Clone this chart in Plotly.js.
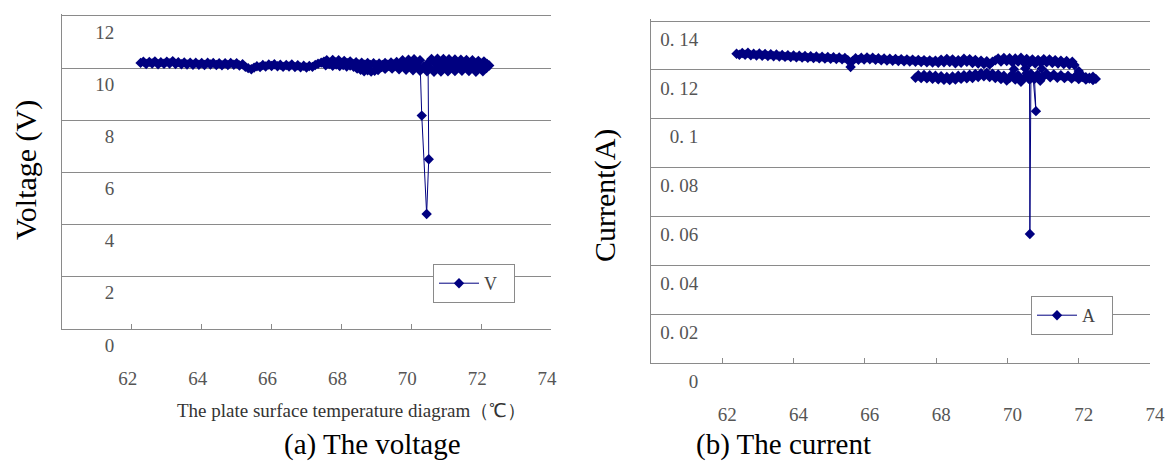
<!DOCTYPE html>
<html>
<head>
<meta charset="utf-8">
<script src="https://cdn.plot.ly/plotly-3.0.1.min.js"></script>
<style>html,body{margin:0;padding:0;background:#fff;}#chart{width:1170px;height:468px;}</style>
</head>
<body>
<div id="chart"></div>
<script>
// ---- Panel (a): voltage vs plate surface temperature (time ordered)
var tempV = [
62.25,62.33,62.41,62.50,62.58,62.66,62.75,62.83,62.92,63.00,63.08,63.17,63.25,63.33,63.42,63.50,63.58,63.67,63.75,63.83,
63.92,64.00,64.08,64.17,64.25,64.33,64.42,64.50,64.58,64.67,64.75,64.83,64.92,65.00,65.08,65.17,65.25,65.33,65.42,65.50,
65.58,65.67,65.75,65.83,65.92,66.00,66.08,66.17,66.25,66.33,66.42,66.50,66.58,66.67,66.75,66.83,66.92,67.00,67.08,67.17,
67.25,67.33,67.42,67.50,67.58,67.67,67.75,67.83,67.92,68.00,68.08,68.17,68.25,68.33,68.42,68.50,68.58,68.67,68.75,68.83,
68.92,69.00,69.08,69.17,69.25,69.33,69.42,69.50,69.58,69.67,69.75,69.83,69.92,70.00,70.08,70.17,70.25,70.30,70.44,70.50,
70.48,70.58,70.67,70.75,70.83,70.92,71.00,71.08,71.17,71.25,71.33,71.42,71.50,71.58,71.67,71.75,71.83,71.92,72.00,72.08,
72.17,72.23,72.15,72.05,71.95,71.85,71.75,71.65,71.55,71.45,71.35,71.25,71.15,71.05,70.95,70.85,70.75,70.65,70.55,70.45,
70.35,70.25,70.15,70.05,69.95,69.85,69.75,69.65,69.55,69.45,69.35,69.25,69.15,69.05,68.95,68.85,68.75,68.65,68.55,68.45,
68.35,68.25,68.15,68.05,67.95,67.85,67.75,67.65,67.55
];
var voltage = [
10.20,10.25,10.16,10.24,10.18,10.26,10.15,10.23,10.17,10.25,10.18,10.27,10.16,10.23,10.15,10.22,10.14,10.21,10.13,10.21,
10.13,10.20,10.12,10.21,10.14,10.20,10.12,10.19,10.11,10.19,10.12,10.20,10.13,10.19,10.10,10.15,10.05,10.00,9.96,10.02,
10.07,10.04,10.12,10.06,10.14,10.08,10.15,10.07,10.13,10.05,10.12,10.06,10.14,10.04,10.11,10.03,10.09,10.02,10.08,10.05,
10.12,10.17,10.21,10.25,10.30,10.21,10.31,10.22,10.30,10.20,10.28,10.19,10.26,10.16,10.23,10.14,10.21,10.13,10.20,10.12,
10.19,10.11,10.18,10.12,10.20,10.13,10.22,10.14,10.24,10.16,10.30,10.18,10.32,10.20,10.34,10.21,10.30,8.18,4.41,6.51,
10.20,10.35,10.22,10.36,10.23,10.35,10.21,10.34,10.20,10.33,10.19,10.32,10.18,10.31,10.17,10.30,10.15,10.28,10.14,10.26,
10.16,10.10,10.00,9.88,10.04,9.86,10.03,9.89,10.06,9.90,10.07,9.89,10.05,9.88,10.04,9.87,10.03,9.86,10.01,9.88,
10.05,9.90,10.06,9.92,10.08,9.94,10.09,9.96,10.10,9.98,10.09,9.97,10.04,9.93,9.90,9.87,9.92,9.88,9.94,9.98,
10.05,10.10,10.06,10.12,10.08,10.14,10.09,10.16,10.11
];

// ---- Panel (b): current vs plate surface temperature (time ordered)
var tempA = [
62.40,62.48,62.56,62.64,62.72,62.80,62.88,62.96,63.04,63.12,63.20,63.28,63.36,63.44,63.52,63.60,63.68,63.76,63.84,63.92,
64.00,64.08,64.16,64.24,64.32,64.40,64.48,64.56,64.64,64.72,64.80,64.88,64.96,65.04,65.12,65.20,65.28,65.36,65.44,65.52,
65.60,65.66,65.74,65.82,65.90,65.98,66.06,66.14,66.22,66.30,66.38,66.46,66.54,66.62,66.70,66.78,66.86,66.94,67.02,67.10,
67.18,67.26,67.34,67.42,67.50,67.58,67.66,67.74,67.82,67.90,67.98,68.06,68.14,68.22,68.30,68.38,68.46,68.54,68.62,68.70,
68.78,68.86,68.94,69.02,69.10,69.18,69.26,69.34,69.42,69.50,69.58,69.66,69.74,69.82,69.90,69.98,70.06,70.14,70.22,70.30,
70.38,70.46,70.54,70.62,70.70,70.78,70.86,70.94,71.02,71.10,71.18,71.26,71.34,71.42,71.50,71.58,71.66,71.74,71.82,71.88,
72.00,72.10,72.20,72.30,72.40,72.48,72.40,72.30,72.20,72.10,72.00,71.90,71.80,71.70,71.60,71.50,71.40,71.30,71.20,71.10,
71.00,70.92,70.96,70.84,70.76,70.80,70.72,70.66,70.63,70.62,70.54,70.50,70.46,70.38,70.30,70.22,70.18,70.14,70.06,69.98,
69.90,69.82,69.74,69.66,69.58,69.50,69.42,69.34,69.26,69.18,69.10,69.02,68.94,68.86,68.78,68.70,68.62,68.54,68.46,68.38,
68.30,68.22,68.14,68.06,67.98,67.90,67.82,67.74,67.66,67.58,67.50,67.42
];
var current = [
0.1266,0.1262,0.1269,0.1262,0.1270,0.1260,0.1266,0.1259,0.1267,0.1258,0.1265,0.1257,0.1264,0.1256,0.1263,0.1255,0.1261,0.1253,0.1260,0.1252,
0.1259,0.1251,0.1258,0.1250,0.1257,0.1249,0.1256,0.1248,0.1255,0.1247,0.1254,0.1246,0.1253,0.1245,0.1252,0.1244,0.1251,0.1243,0.1249,0.1240,
0.1212,0.1237,0.1248,0.1241,0.1250,0.1242,0.1251,0.1243,0.1250,0.1241,0.1248,0.1239,0.1247,0.1238,0.1246,0.1237,0.1245,0.1236,0.1244,0.1235,
0.1243,0.1234,0.1242,0.1233,0.1241,0.1232,0.1240,0.1231,0.1239,0.1230,0.1238,0.1229,0.1242,0.1231,0.1245,0.1232,0.1243,0.1227,0.1240,0.1229,
0.1246,0.1233,0.1244,0.1228,0.1241,0.1226,0.1238,0.1224,0.1235,0.1222,0.1233,0.1239,0.1247,0.1234,0.1249,0.1236,0.1248,0.1231,0.1247,0.1234,
0.1250,0.1230,0.1245,0.1228,0.1243,0.1226,0.1241,0.1229,0.1244,0.1231,0.1243,0.1228,0.1240,0.1226,0.1238,0.1224,0.1236,0.1222,0.1233,0.1220,
0.1195,0.1176,0.1170,0.1164,0.1172,0.1163,0.1158,0.1168,0.1160,0.1171,0.1162,0.1173,0.1164,0.1176,0.1166,0.1178,0.1168,0.1181,0.1170,0.1184,
0.1172,0.1155,0.1205,0.1180,0.1163,0.1031,0.1168,0.1184,0.0528,0.1160,0.1186,0.1206,0.1165,0.1151,0.1178,0.1160,0.1203,0.1182,0.1167,0.1156,
0.1176,0.1162,0.1181,0.1167,0.1184,0.1171,0.1188,0.1174,0.1186,0.1171,0.1183,0.1167,0.1180,0.1165,0.1178,0.1163,0.1176,0.1160,0.1173,0.1158,
0.1171,0.1159,0.1174,0.1161,0.1176,0.1163,0.1178,0.1165,0.1179,0.1166,0.1178,0.1168
];

// ---- Axis ticks
var xTicks = [62, 64, 66, 68, 70, 72, 74];
var xTickText = ['62', '64', '66', '68', '70', '72', '74'];
var vTicks = [0, 2, 4, 6, 8, 10, 12];
var vTickText = ['0', '2', '4', '6', '8', '10', '12'];
var aTicks = [0, 0.02, 0.04, 0.06, 0.08, 0.10, 0.12, 0.14];
var aTickText = ['0', '0. 02', '0. 04', '0. 06', '0. 08', '0. 1', '0. 12', '0. 14'];

var navy = '#000080';
var grid = '#8a8a8a';
var tickFont = {family: 'Liberation Serif, Times New Roman, serif', size: 19, color: '#555555'};

var traces = [
  {x: tempV, y: voltage, xaxis: 'x', yaxis: 'y', name: 'V', mode: 'lines+markers',
   line: {color: navy, width: 1}, marker: {symbol: 'diamond', size: 8, color: navy}, legend: 'legend'},
  {x: tempA, y: current, xaxis: 'x2', yaxis: 'y2', name: 'A', mode: 'lines+markers',
   line: {color: navy, width: 1}, marker: {symbol: 'diamond', size: 8, color: navy}, legend: 'legend2'}
];

var baseX = {range: [60, 74], tickmode: 'array', ticks: 'inside', ticklen: 5, tickcolor: grid,
  showline: true, linecolor: grid, linewidth: 1, showgrid: false, zeroline: false,
  tickfont: tickFont, fixedrange: true};
var baseY = {tickmode: 'array', ticks: '', showline: true, linecolor: grid, linewidth: 1,
  showgrid: true, gridcolor: grid, gridwidth: 1, zeroline: false, tickfont: tickFont, fixedrange: true};

var legendFont = {family: 'Liberation Serif, serif', size: 18, color: '#444'};

var layout = {
  width: 1170, height: 468,
  margin: {l: 0, r: 0, t: 0, b: 0},
  paper_bgcolor: '#ffffff', plot_bgcolor: '#ffffff',
  showlegend: true,
  xaxis: Object.assign({}, baseX, {domain: [62/1170, 551/1170], anchor: 'y',
    tickvals: xTicks, ticktext: xTickText, ticklabelstandoff: 32, ticklabelshift: -4}),
  yaxis: Object.assign({}, baseY, {domain: [(468-329)/468, (468-14.4)/468], anchor: 'x',
    range: [0, 12.06], tickvals: vTicks, ticktext: vTickText, ticklabelstandoff: -57, ticklabelshift: 16}),
  xaxis2: Object.assign({}, baseX, {domain: [651/1170, 1150/1170], anchor: 'y2',
    tickvals: xTicks, ticktext: xTickText, ticklabelstandoff: 34, ticklabelshift: 5}),
  yaxis2: Object.assign({}, baseY, {domain: [(468-363)/468, (468-19.3)/468], anchor: 'x2',
    range: [0, 0.1407], tickvals: aTicks, ticktext: aTickText, ticklabelstandoff: -52, ticklabelshift: 18}),
  legend: {x: 433/1170, y: 1-264/468, xanchor: 'left', yanchor: 'top', bgcolor: '#ffffff',
    bordercolor: grid, borderwidth: 1, font: legendFont, orientation: 'h',
    itemwidth: 40, entrywidth: 25, entrywidthmode: 'pixels'},
  legend2: {x: 1031/1170, y: 1-296/468, xanchor: 'left', yanchor: 'top', bgcolor: '#ffffff',
    bordercolor: grid, borderwidth: 1, font: legendFont, orientation: 'h',
    itemwidth: 40, entrywidth: 25, entrywidthmode: 'pixels'},
  annotations: [
    {text: 'Voltage (V)', x: 26/1170, y: 1-170/468, xref: 'paper', yref: 'paper', textangle: -90,
     showarrow: false, xanchor: 'center', yanchor: 'middle', font: {family: 'Liberation Serif, serif', size: 30, color: '#000'}},
    {text: 'Current(A)', x: 605/1170, y: 1-196/468, xref: 'paper', yref: 'paper', textangle: -90,
     showarrow: false, xanchor: 'center', yanchor: 'middle', font: {family: 'Liberation Serif, serif', size: 30, color: '#000'}},
    {text: 'The plate surface temperature diagram（℃）', x: 351/1170, y: 1-410/468, xref: 'paper', yref: 'paper',
     showarrow: false, xanchor: 'center', yanchor: 'middle', font: {family: 'Liberation Serif, serif', size: 19, color: '#333'}},
    {text: '(a) The voltage', x: 372/1170, y: 1-444/468, xref: 'paper', yref: 'paper',
     showarrow: false, xanchor: 'center', yanchor: 'middle', font: {family: 'Liberation Serif, serif', size: 29, color: '#000'}},
    {text: '(b) The current', x: 783/1170, y: 1-444/468, xref: 'paper', yref: 'paper',
     showarrow: false, xanchor: 'center', yanchor: 'middle', font: {family: 'Liberation Serif, serif', size: 29, color: '#000'}}
  ]
};

Plotly.newPlot('chart', traces, layout, {displayModeBar: false, staticPlot: true});
</script>
</body>
</html>
